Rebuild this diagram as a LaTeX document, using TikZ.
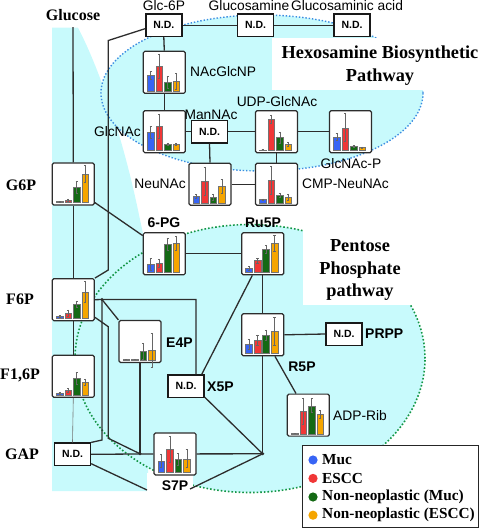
\documentclass[tikz,border=0pt]{standalone}
\usepackage{fontspec}
\setmainfont{Liberation Serif}
\setsansfont{Liberation Sans}
\usetikzlibrary{calc}
\definecolor{bgcyan}{RGB}{200,250,252}
\definecolor{cblue}{RGB}{55,100,245}
\definecolor{cred}{RGB}{240,55,55}
\definecolor{cgreen}{RGB}{20,105,20}
\definecolor{corange}{RGB}{245,165,0}
\definecolor{lnc}{RGB}{45,45,45}
\definecolor{hbpdot}{RGB}{60,140,225}
\definecolor{pppdot}{RGB}{20,150,70}
\newcommand\mybars[9]{%
  \foreach \bi/\bh/\be/\bc in {0/#2/#3/cblue,1/#4/#5/cred,2/#6/#7/cgreen,3/#8/#9/corange}{%
    \filldraw[fill=\bc,draw=black!55,line width=0.3pt]
      ([shift={(4.5+8.5*\bi,-3)}]#1.south west) rectangle ([shift={(11.2+8.5*\bi,-3-\bh)}]#1.south west);
    \draw[errbar] ([shift={(7.85+8.5*\bi,-3-\bh-\be)}]#1.south west) -- ([shift={(7.85+8.5*\bi,-3-\bh+\be)}]#1.south west);
    \draw[errbar] ([shift={(6.8+8.5*\bi,-3-\bh-\be)}]#1.south west) -- ([shift={(8.9+8.5*\bi,-3-\bh-\be)}]#1.south west);
    \draw[errbar] ([shift={(6.8+8.5*\bi,-3-\bh+\be)}]#1.south west) -- ([shift={(8.9+8.5*\bi,-3-\bh+\be)}]#1.south west);
  }}
\tikzset{
  chartbox/.style={draw=lnc,line width=1.2pt,rounded corners=1.5pt,fill=white,minimum width=42pt,minimum height=42pt,inner sep=0pt},
  ndbox/.style={draw=black!90,line width=1.4pt,fill=white,minimum width=36pt,minimum height=22.4pt,inner sep=0pt,font=\fontsize{10.5}{12}\selectfont\sffamily\bfseries},
  lab/.style={inner sep=0pt,font=\fontsize{13.8}{16}\selectfont\sffamily},
  blab/.style={inner sep=0pt,font=\fontsize{14}{16}\selectfont\sffamily\bfseries},
  slab/.style={inner sep=0pt,font=\fontsize{16}{18}\selectfont\bfseries},
  ttl/.style={inner sep=0pt,align=center,font=\fontsize{18.3}{22.6}\selectfont\bfseries},
  leg/.style={inner sep=0pt,anchor=west,font=\fontsize{15.3}{17}\selectfont\bfseries},
  conn/.style={draw=lnc,line width=1.3pt},
  thinconn/.style={draw=black!55,line width=0.6pt},
  errbar/.style={draw=black!60,line width=0.45pt},
  jdot/.style={fill=lnc}
}
\begin{document}
\begin{tikzpicture}[x=1pt,y=-1pt]
\useasboundingbox (0,0) rectangle (480,529);
% background
\fill[bgcyan] (52,27.7) -- (78,27.7) .. controls (95,60) and (120,125) .. (138,210)
  .. controls (142,230) and (146,245) .. (148,260) -- (148,491) -- (52,491) -- cycle;
\fill[bgcyan] (262,93) ellipse [x radius=161pt, y radius=78pt];
\fill[bgcyan] (250,358.5) ellipse [x radius=175pt, y radius=134pt];
\draw[hbpdot,line width=1.4pt,dash pattern=on 1.4pt off 1.9pt] (262,93) ellipse [x radius=161pt, y radius=78pt];
\draw[pppdot,line width=1.6pt,dash pattern=on 1.6pt off 2pt] (250,358.5) ellipse [x radius=175pt, y radius=134pt];
\fill[white] (272,38) rectangle (480,90);
\fill[white] (303,205) rectangle (480,305);
\fill[white] (147,473) rectangle (193,500);
% titles
\node[ttl] (hbptitle) at (380,65.5) {Hexosamine Biosynthetic\\Pathway};
\node[ttl] (ppptitle) at (360,270) {Pentose\\Phosphate\\pathway};
% N.D. boxes
\node[ndbox] (nda) at (163.8,25.3) {N.D.};
\node[ndbox] (ndb) at (255.5,25.3) {N.D.};
\node[ndbox] (ndc) at (352,25.3) {N.D.};
\node[ndbox] (ndman) at (209.5,131.7) {N.D.};
\node[ndbox] (ndx5p) at (186,386.3) {N.D.};
\node[ndbox] (ndprpp) at (344,334) {N.D.};
\node[ndbox] (ndgap) at (72.5,454.3) {N.D.};
% chart boxes
\node[chartbox] (cnac) at (164.3,72.3) {};
\node[chartbox] (cglcnac) at (164.3,131.7) {};
\node[chartbox] (cudp) at (276.5,131.7) {};
\node[chartbox] (cglcnacp) at (350.5,131.7) {};
\node[chartbox] (cneu) at (210,184.3) {};
\node[chartbox] (ccmp) at (276.5,184.3) {};
\node[chartbox] (cg6p) at (73.3,184) {};
\node[chartbox] (cpg) at (164.3,253.8) {};
\node[chartbox] (cru5p) at (262.7,253.8) {};
\node[chartbox] (cf6p) at (73.3,299.7) {};
\node[chartbox] (ce4p) at (140,341.5) {};
\node[chartbox] (cr5p) at (262.7,334.8) {};
\node[chartbox] (cf16p) at (73.3,376.3) {};
\node[chartbox] (cadp) at (308.3,415.1) {};
\node[chartbox] (cs7p) at (175,453.9) {};
% bars
\mybars{cnac}{15.9}{4}{25}{12}{8.8}{6}{9.4}{8}
\mybars{cglcnac}{17.9}{6}{24.3}{12}{6}{1}{6}{1}
\mybars{cudp}{0.6}{0}{31.4}{4}{12.8}{5.5}{6}{2}
\mybars{cglcnacp}{13.1}{3.5}{22.6}{14}{3.7}{1}{2.7}{0.6}
\mybars{cneu}{6.4}{2}{21.9}{14}{6}{3}{16.5}{7}
\mybars{ccmp}{3.3}{0.8}{22.6}{14}{7.8}{2}{5.8}{3}
\mybars{cg6p}{1}{0.5}{2.7}{1}{15.2}{5.7}{28.6}{8.3}
\mybars{cpg}{7.8}{6}{8.8}{4}{28}{6}{29}{6.7}
\mybars{cru5p}{4.4}{2}{11.8}{2.5}{23}{4}{29}{8}
\mybars{cf6p}{2.3}{1}{5.4}{3}{13.8}{3}{26.3}{10.7}
\mybars{ce4p}{0.6}{0}{0.8}{0}{9.1}{8}{10.1}{17}
\mybars{cr5p}{9.1}{5}{13.5}{5}{18.5}{5}{22}{14}
\mybars{cf16p}{1.3}{1}{4.7}{2}{16.5}{6}{13.1}{3}
\mybars{cadp}{0.6}{0}{22.9}{13}{28}{7}{19.5}{4}
\mybars{cs7p}{11.4}{6.5}{23.2}{13}{13.1}{6}{13.8}{9}
% labels
\node[slab] (glucose) at (73,15.2) {Glucose};
\node[lab] (lglc6p) at (164,5.8) {Glc-6P};
\node[lab] (lglcn) at (249,5.8) {Glucosamine};
\node[lab] (lglcnacid) at (347,5.8) {Glucosaminic acid};
\node[lab,anchor=west] (lnac) at (190,72) {NAcGlcNP};
\node[lab,anchor=east] (lglcnac) at (141,131.6) {GlcNAc};
\node[lab] (lman) at (211,115.2) {ManNAc};
\node[lab] (ludp) at (277,101.2) {UDP-GlcNAc};
\node[lab] (lglcnacp) at (351,163.6) {GlcNAc-P};
\node[lab,anchor=east] (lneu) at (186,184) {NeuNAc};
\node[lab,anchor=west] (lcmp) at (302,184) {CMP-NeuNAc};
\node[slab] (lg6p) at (21,185.6) {G6P};
\node[blab] (lpg) at (164,222.7) {6-PG};
\node[blab] (lru5p) at (263,222.7) {Ru5P};
\node[slab] (lf6p) at (20,299.3) {F6P};
\node[blab,anchor=west] (le4p) at (166,342.4) {E4P};
\node[blab] (lr5p) at (302,366.7) {R5P};
\node[blab,anchor=west] (lprpp) at (365,334) {PRPP};
\node[blab,anchor=west] (lx5p) at (207,387) {X5P};
\node[slab] (lf16p) at (20,375.2) {F1,6P};
\node[lab,anchor=west] (ladp) at (333,415.7) {ADP-Rib};
\node[slab] (lgap) at (22,454.5) {GAP};
\node[blab] (ls7p) at (175,485.8) {S7P};
% junctions and bends
\coordinate (jf) at (102,299.5);
\coordinate (j1) at (140,453.8);
\coordinate (j2) at (262.7,453.8);
\coordinate (b1) at (108.3,40.5);
\coordinate (b2) at (108.3,270);
\coordinate (b3) at (102,440);
\coordinate (b4) at (108.3,326.7);
\coordinate (b5) at (108.3,438.3);
\coordinate (gapend) at (147,490);
\coordinate (s7pend) at (190,489);
% connectors
\draw[conn] ([yshift=-6pt]glucose.south) -- (cg6p.north);
\draw[conn] (cg6p.south) -- (cf6p.north);
\draw[conn] (cf6p.south) -- (cf16p.north);
\draw[thinconn] (cf16p.south) -- (ndgap.north);
\draw[conn] ([yshift=-3.4pt]nda.west) -- (b1) -- (b2) -- (cf6p.north east);
\draw[conn] (nda.east) -- (ndb.west);
\draw[conn] (ndb.east) -- (ndc.west);
\draw[conn] (nda.south) -- (cnac.north);
\draw[conn] (cnac.south) -- (cglcnac.north);
\draw[conn] (cglcnac.east) -- (ndman.west);
\draw[conn] (ndman.east) -- (cudp.west);
\draw[conn] (cudp.east) -- (cglcnacp.west);
\draw[conn] (ndman.south) -- (cneu.north);
\draw[conn] (cudp.south) -- (ccmp.north);
\draw[conn] (cneu.east) -- (ccmp.west);
\draw[conn] ([yshift=3pt]cg6p.south east) -- ([yshift=-3.4pt]cpg.north west);
\draw[conn] (cpg.east) -- (cru5p.west);
\draw[conn] (cru5p.south) -- (cr5p.north);
\draw[conn] (cr5p.east) -- (ndprpp.west);
\draw[conn] ([xshift=12.3pt]cr5p.south) -- ([xshift=-12.3pt]cadp.north);
\draw[conn] ([xshift=-10.4pt]cru5p.south) -- ([xshift=15.7pt]ndx5p.north);
\draw[conn] ([yshift=1pt]ndx5p.south east) -- (j2);
\draw[conn] (cr5p.south) -- (j2);
\draw[conn] (cs7p.east) -- (j2);
\draw[conn] (j2) -- (s7pend);
\draw[conn] (ndgap.east) -- (cs7p.west);
\draw[conn] ([yshift=2.5pt]ndgap.south east) -- (gapend);
\draw[conn] (ce4p.south) -- (j1);
\draw[conn] (cf6p.east) -- (jf) -| ([xshift=10pt]ndx5p.north);
\draw[conn] (jf) -- (ce4p.north west);
\draw[conn] (jf) -- (b3) -- (ndgap.north east);
\draw[conn] ([yshift=4pt]cf6p.south east) -- (b4) -- (b5) -- (j1);
\fill[jdot] (jf) circle (1.6pt);
\fill[jdot] (j1) circle (1.6pt);
\fill[jdot] (j2) circle (1.6pt);
% legend
\node[draw=black!85,line width=1.2pt,fill=white,minimum width=176pt,minimum height=82pt,inner sep=0pt] (legend) at (390.6,486.6) {};
\fill[cblue] (313,460) circle (4.6pt);
\fill[cred] (313,478.4) circle (4.6pt);
\fill[cgreen] (313,497) circle (4.6pt);
\fill[corange] (313,515.2) circle (4.6pt);
\node[leg] (lmuc) at (322,460) {Muc};
\node[leg] (lescc) at (322,478.4) {ESCC};
\node[leg] (lnnm) at (322,497) {Non-neoplastic (Muc)};
\node[leg] (lnne) at (322,515.2) {Non-neoplastic (ESCC)};
\end{tikzpicture}
\end{document}
